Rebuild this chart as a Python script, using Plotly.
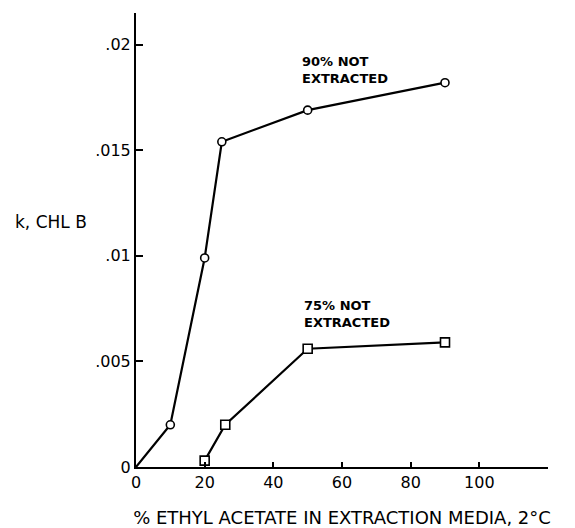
import plotly.graph_objects as go

# Rate constant k for chlorophyll b vs. % ethyl acetate in the extraction media (2 °C)
pct_90 = [0, 10, 20, 25, 50, 90]
k_90 = [0.0, 0.002, 0.0099, 0.0154, 0.0169, 0.0182]

pct_75 = [20, 26, 50, 90]
k_75 = [0.0003, 0.002, 0.0056, 0.0059]

x_ticks = [0, 20, 40, 60, 80, 100]
y_ticks = [0, 0.005, 0.01, 0.015, 0.02]
y_tick_text = ["0", ".005", ".01", ".015", ".02"]

FONT = "DejaVu Sans, Verdana, sans-serif"

fig = go.Figure()

# 90% not extracted: line starts at the origin, markers on measured points only
fig.add_trace(go.Scatter(
    x=pct_90, y=k_90, mode="lines",
    line=dict(color="black", width=2.2), hoverinfo="skip", showlegend=False,
))
fig.add_trace(go.Scatter(
    x=pct_90[1:], y=k_90[1:], mode="markers",
    marker=dict(symbol="circle", size=8, color="white",
                line=dict(color="black", width=1.6)),
    showlegend=False,
))

# 75% not extracted
fig.add_trace(go.Scatter(
    x=pct_75, y=k_75, mode="lines+markers",
    line=dict(color="black", width=2.2),
    marker=dict(symbol="square", size=9, color="white",
                line=dict(color="black", width=1.6)),
    showlegend=False,
))

fig.add_annotation(x=47.8, y=0.01882, xref="x", yref="y",
                   text="<b>90% NOT<br>EXTRACTED</b>", showarrow=False,
                   xanchor="left", yanchor="middle", align="left",
                   font=dict(family=FONT, size=13, color="black"))
fig.add_annotation(x=48.4, y=0.00723, xref="x", yref="y",
                   text="<b>75% NOT<br>EXTRACTED</b>", showarrow=False,
                   xanchor="left", yanchor="middle", align="left",
                   font=dict(family=FONT, size=13, color="black"))

# y-axis title placed horizontally to the left of the axis
fig.add_annotation(
    x=(13 - 136) / (548 - 136), y=(467 - 222) / (467 - 13),
    xref="paper", yref="paper", text="k, CHL B", showarrow=False,
    xanchor="left", yanchor="middle",
    font=dict(family=FONT, size=17, color="black"))

fig.update_layout(
    width=575, height=528,
    margin=dict(l=136, r=27, t=13, b=61),
    paper_bgcolor="white", plot_bgcolor="white",
    font=dict(family=FONT, size=16, color="black"),
    xaxis=dict(
        range=[0, 120], tickvals=x_ticks, automargin=False,
        ticks="inside", ticklen=5, tickwidth=1.5, tickcolor="black",
        showline=True, linecolor="black", linewidth=2,
        showgrid=False, zeroline=False,
        tickfont=dict(family=FONT, size=16),
        title=dict(text="% ETHYL ACETATE IN EXTRACTION MEDIA, 2°C",
                   font=dict(family=FONT, size=18), standoff=20),
    ),
    yaxis=dict(
        range=[0, 0.0215], tickvals=y_ticks, ticktext=y_tick_text,
        automargin=False,
        ticks="inside", ticklen=7, tickwidth=1.5, tickcolor="black",
        showline=True, linecolor="black", linewidth=2,
        showgrid=False, zeroline=False,
        tickfont=dict(family=FONT, size=16),
    ),
)

fig.write_html("out.html")
